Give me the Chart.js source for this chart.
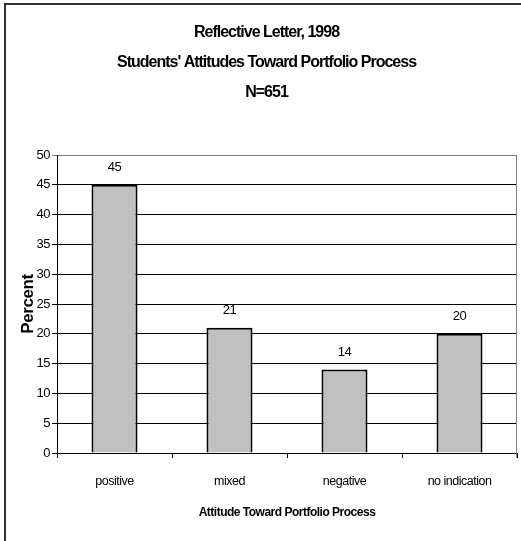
<!DOCTYPE html>
<html>
<head>
<meta charset="utf-8">
<script src="https://cdn.jsdelivr.net/npm/chart.js@4/dist/chart.umd.min.js"></script>
<style>
  html, body { margin: 0; padding: 0; background: #fff; overflow: hidden; }
  #wrap { position: relative; width: 521px; height: 541px; }
  canvas { display: block; }
</style>
</head>
<body>
<div id="wrap"><canvas id="chart" width="521" height="541"></canvas></div>
<script>
// Chart text and data
const titleLines = ["Reflective Letter, 1998", "Students' Attitudes Toward Portfolio Process", "N=651"];
const categories = ["positive", "mixed", "negative", "no indication"];
const percentValues = [45, 21, 14, 20];
const yMin = 0;
const yMax = 50;
const yStep = 5;
const xAxisTitle = "Attitude Toward Portfolio Process";
const yAxisTitle = "Percent";

const FONT = "'Liberation Sans', Arial, sans-serif";

// Letter spacing per font size: the chart uses tightly set text
const spacingBySize = { 16: '-1px', 17: '-0.4px' };
const defaultSpacing = '-0.5px';

const tightText = {
  id: 'tightText',
  beforeInit(chart) {
    const ctx = chart.ctx;
    if (!('letterSpacing' in ctx) || ctx.__tight) return;
    const fill = ctx.fillText.bind(ctx);
    ctx.fillText = function (text, x, y, maxWidth) {
      const m = /(\d+(?:\.\d+)?)px/.exec(ctx.font);
      const size = m ? Math.round(parseFloat(m[1])) : 0;
      const prev = ctx.letterSpacing;
      ctx.letterSpacing = spacingBySize[size] || defaultSpacing;
      if (maxWidth === undefined) fill(text, x, y); else fill(text, x, y, maxWidth);
      ctx.letterSpacing = prev;
    };
    ctx.__tight = true;
  },
  beforeDraw(chart) {
    const ctx = chart.ctx;
    ctx.save();
    ctx.fillStyle = '#fff';
    ctx.fillRect(0, 0, chart.width, chart.height);
    // outer chart frame (left and top edges)
    ctx.strokeStyle = '#333';
    ctx.lineWidth = 2;
    ctx.beginPath();
    ctx.moveTo(5, chart.height + 5);
    ctx.lineTo(5, 4);
    ctx.lineTo(chart.width + 5, 4);
    ctx.stroke();
    ctx.restore();
  }
};

// Grey border on the right side of the plot area
const plotBorder = {
  id: 'plotBorder',
  afterDatasetsDraw(chart) {
    const { ctx, chartArea } = chart;
    ctx.save();
    ctx.strokeStyle = '#808080';
    ctx.lineWidth = 1;
    const x = Math.round(chartArea.right) - 0.5;
    ctx.beginPath();
    ctx.moveTo(x, chartArea.top);
    ctx.lineTo(x, chartArea.bottom + 5);
    ctx.stroke();
    ctx.restore();
  }
};

// Value labels above each bar
const valueLabels = {
  id: 'valueLabels',
  afterDatasetsDraw(chart) {
    const ctx = chart.ctx;
    const meta = chart.getDatasetMeta(0);
    const data = chart.data.datasets[0].data;
    ctx.save();
    ctx.font = "13px " + FONT;
    ctx.fillStyle = '#000';
    ctx.textAlign = 'center';
    ctx.textBaseline = 'middle';
    meta.data.forEach((bar, i) => {
      ctx.fillText(String(data[i]), bar.x, bar.y - 17);
    });
    ctx.restore();
  }
};

new Chart(document.getElementById('chart'), {
  type: 'bar',
  data: {
    labels: categories,
    datasets: [{
      data: percentValues,
      backgroundColor: '#c0c0c0',
      borderColor: '#000',
      borderWidth: 2,
      barPercentage: 0.4,
      categoryPercentage: 1
    }]
  },
  options: {
    responsive: false,
    devicePixelRatio: 1,
    animation: false,
    layout: { padding: { left: 16, right: 4, top: 0, bottom: 4 } },
    plugins: {
      legend: { display: false },
      tooltip: { enabled: false },
      title: {
        display: true,
        text: titleLines,
        color: '#000',
        font: { family: FONT, size: 16, weight: 'bold', lineHeight: 1.875 },
        padding: { top: 18, bottom: 47 }
      }
    },
    scales: {
      x: {
        offset: true,
        grid: { offset: true, drawOnChartArea: false, drawTicks: true, tickLength: 5, color: '#000' },
        border: { display: true, color: '#000', width: 1 },
        ticks: { color: '#000', font: { family: FONT, size: 12.5 }, padding: 16, maxRotation: 0 },
        title: {
          display: true, text: xAxisTitle, color: '#000',
          font: { family: FONT, size: 12, weight: 'bold' },
          padding: { top: 0, bottom: 17 }
        },
        afterFit(scale) { scale.height = 84; }
      },
      y: {
        min: yMin,
        max: yMax,
        ticks: { stepSize: yStep, color: '#000', font: { family: FONT, size: 13 }, padding: 2 },
        grid: {
          color: (c) => (c.tick && c.tick.value === yMax) ? '#808080' : '#000',
          tickLength: 5
        },
        border: { display: true, color: '#000', width: 1 },
        title: {
          display: true, text: yAxisTitle, color: '#000',
          font: { family: FONT, size: 17, weight: 'bold' },
          padding: { top: 2, bottom: 0 }
        },
        afterFit(scale) { scale.width = 41; }
      }
    }
  },
  plugins: [tightText, plotBorder, valueLabels]
});
</script>
</body>
</html>
